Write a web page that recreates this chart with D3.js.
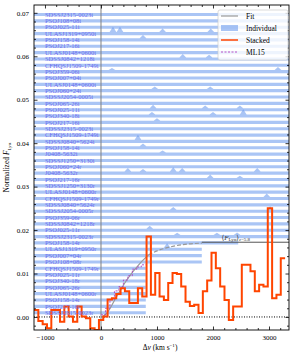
<!DOCTYPE html>
<html lang="en">
<head>
<meta charset="UTF-8" />
<script src="https://d3js.org/d3.v7.min.js"></script>
<style>
  body { margin: 0; background: #fff; }
  text { font-family: "Liberation Serif", "DejaVu Serif", serif; }
</style>
</head>
<body>
<svg id="chart" width="291" height="353"></svg>
<script>
// sightline labels, top to bottom
const rowLabels = [
  "SDSSJ2315-0023i", "PSOJ108+08i", "PSOJ025-11i", "ULASJ1319+0950i", "PSOJ158-14i",
  "PSOJ217-16i", "ULASJ0148+0600i", "SDSSJ0842+1218i", "CFHQSJ1509-1749i", "PSOJ359-06i",
  "PSOJ007+04i", "ULASJ0148+0600i", "PSOJ060+24i", "SDSSJ2054-0005i", "PSOJ065-26i",
  "PSOJ025-11i", "PSOJ340-18i", "PSOJ217-16i", "SDSSJ2315-0023i", "CFHQSJ1509-1749i",
  "SDSSJ0840+5624i", "PSOJ158-14i", "J0408-5632i", "SDSSJ1250+3130i", "PSOJ060+24r",
  "J0408-5632r", "PSOJ217-16r", "SDSSJ1250+3130r", "ULASJ0148+0600r", "CFHQSJ1509-1749r",
  "SDSSJ0840+5624r", "SDSSJ2054-0005r", "PSOJ359-06r", "SDSSJ0842+1218r", "PSOJ025-11r",
  "SDSSJ2315-0023r", "PSOJ158-14r", "ULASJ1319+0950r", "PSOJ007+04r", "PSOJ108+08r",
  "CFHQSJ1509-1749r", "PSOJ025-11r", "PSOJ340-18r", "PSOJ065-26r", "ULASJ0148+0600r",
  "PSOJ158-14r", "PSOJ217-16r", "SDSSJ2315-0023r"
];
// velocity coverage of each individual spectrum (km/s)
const rowEnd = [
  3360, 3360, 3360, 3360, 3360, 3360, 3360, 3360, 3360, 3360,
  3360, 3360, 3360, 3360, 3360, 3360, 3360, 3360, 3360, 3360,
  3360, 3360, 3360, 3360, 3360, 3360, 3360, 3360, 3360, 3360,
  3360, 3360, 3360, 3360, 3360, 3360, 2450, 1800, 1800, 1800,
  800, 800, 800, 800, 800, 800, 800, 800
];
// transmission spikes per row: [dv, flux in 1e-3]
const rowPeaks = [
  [], [], [], [[214, 1.2], [339, 1.2], [1100, 0.8], [1960, 0.8]], [[750, 0.8]],
  [], [], [[1460, 0.8], [1930, 0.6]], [], [[196, 0.5], [3160, 0.7]],
  [], [], [[960, 0.6], [1950, 0.6]], [], [],
  [[930, 0.8], [1860, 0.6], [2480, 0.6]], [[910, 0.6], [2000, 0.6], [2540, 1.2]], [[1000, 0.6]], [], [],
  [[660, 1.2]], [[750, 0.6]], [[1100, 0.5]], [], [],
  [[480, 0.8], [750, 0.6], [1290, 1.0], [1450, 0.8], [2790, 0.8]], [[1950, 0.8], [2480, 0.5]], [], [], [[2960, 0.8]],
  [], [[1290, 0.6], [3020, 0.8]], [], [], [[870, 0.7]],
  [[1360, 0.5], [2070, 0.5], [2430, 0.6]], [], [[1180, 1.0]], [], [],
  [], [], [], [], [], [], [], []
];

// stacked flux, binned
const stackStart = -1196;
const stackWidth = 77.3;
const stackVals = [
  0.0016, -0.0009, -0.0017, -0.0026, 0.0016, 0.0016, -0.0011, 0.0024, 0.0001, -0.0011,
  0.0024, 0.0001, -0.0003, -0.0026, -0.0030, -0.0007, 0.0001, 0.0040, 0.0043, 0.0053,
  0.0066, 0.0059, 0.0032, 0.0032, 0.0066, 0.0047, 0.0185, 0.0051, 0.0101, 0.0047,
  0.0039, 0.0078, 0.0101, 0.0099, 0.0070, 0.0035, 0.0025, 0.0028, 0.0009, 0.0059,
  0.0084, 0.0148, 0.0112, 0.0070, 0.0039, -0.0007, 0.0024, 0.0024, 0.0120, 0.0120,
  0.0105, 0.0059, 0.0074, 0.0070, 0.0250, 0.0043, 0.0051, 0.0135
];

// ML15 model steps
const mlEdges = [0, 80, 160, 240, 320, 400, 480, 560, 640, 720, 800];
const mlVals = [0.0005, 0.0020, 0.0040, 0.0060, 0.0070, 0.0085, 0.0095, 0.0110, 0.0115, 0.0120];

// fit curve, solid then dashed extrapolation
const fitSolid = [[20, 0.0], [100, 0.0008], [280, 0.0047], [460, 0.0085], [700, 0.0124], [850, 0.0143]];
const fitDashed = [[850, 0.0143], [1000, 0.0152], [1300, 0.0163], [1800, 0.0170]];

const meanFlux = 0.0172;
const meanFrom = 1800;

const xTicks = [-1000, 0, 1000, 2000, 3000];
const yTicks = [0, 0.01, 0.02, 0.03, 0.04, 0.05, 0.06, 0.07];

const svg = d3.select("#chart");
const margin = { top: 5, right: 2, bottom: 23, left: 34 };
const width = 291, height = 353;

const x = d3.scaleLinear().domain([-1196, 3357]).range([margin.left, width - margin.right]);
const y = d3.scaleLinear().domain([-0.003, 0.0718]).range([height - margin.bottom, margin.top]);

const blue = "#6495ed";

svg.append("clipPath").attr("id", "clip")
  .append("rect")
  .attr("x", margin.left).attr("y", margin.top)
  .attr("width", width - margin.left - margin.right)
  .attr("height", height - margin.bottom - margin.top);

const plot = svg.append("g").attr("clip-path", "url(#clip)");

// individual spectra
const rowStep = 0.00146;
const rowTop = 0.0696;
const halfBand = 0.00036;
const area = d3.area().x(d => x(d[0])).y0(d => y(d[2])).y1(d => y(d[1]));

rowLabels.forEach((lab, i) => {
  const base = rowTop - i * rowStep;
  const v0 = -1196, v1 = rowEnd[i];
  let pts = [[v0, base + halfBand, base - halfBand]];
  rowPeaks[i].slice().sort((a, b) => a[0] - b[0]).forEach(p => {
    if (p[0] > v1) return;
    pts.push([p[0] - 60, base + halfBand, base - halfBand]);
    pts.push([p[0], base + halfBand + p[1] * 0.001, base - halfBand]);
    pts.push([p[0] + 60, base + halfBand, base - halfBand]);
  });
  pts.push([v1, base + halfBand, base - halfBand]);
  plot.append("path")
    .attr("d", area(pts))
    .attr("fill", blue)
    .attr("fill-opacity", 0.55);
});

// zero lines
plot.append("line")
  .attr("x1", x(0)).attr("x2", x(0))
  .attr("y1", margin.top).attr("y2", height - margin.bottom)
  .attr("stroke", "#808080").attr("stroke-width", 1);
plot.append("line")
  .attr("x1", margin.left).attr("x2", width - margin.right)
  .attr("y1", y(0)).attr("y2", y(0))
  .attr("stroke", "#000").attr("stroke-width", 1).attr("stroke-dasharray", "1,1.5");

// labels for rows
rowLabels.forEach((lab, i) => {
  const base = rowTop - i * rowStep;
  svg.append("text")
    .attr("x", 45).attr("y", y(base) + 2.2)
    .attr("font-size", "6.5px")
    .attr("fill", "#6b6bef")
    .text(lab);
});

// mean flux
plot.append("line")
  .attr("x1", x(meanFrom)).attr("x2", width - margin.right)
  .attr("y1", y(meanFlux)).attr("y2", y(meanFlux))
  .attr("stroke", "#555").attr("stroke-width", 1);
const ann = svg.append("text").attr("x", x(2150)).attr("y", y(meanFlux) - 2.5)
  .attr("font-size", "7px").attr("fill", "#333");
ann.append("tspan").text("\u27E8");
ann.append("tspan").attr("font-style", "italic").text("F");
ann.append("tspan").attr("font-size", "5px").attr("dy", 1.5).text("Ly\u03B1");
ann.append("tspan").attr("dy", -1.5).text("\u27E9");
ann.append("tspan").attr("font-size", "5px").attr("dy", 1.5).attr("font-style", "italic").text("z");
ann.append("tspan").attr("font-size", "5px").text("=5.8");

// fit
const line = d3.line().x(d => x(d[0])).y(d => y(d[1])).curve(d3.curveMonotoneX);
plot.append("path").attr("d", line(fitSolid))
  .attr("fill", "none").attr("stroke", "#999").attr("stroke-width", 1.2);
plot.append("path").attr("d", line(fitDashed))
  .attr("fill", "none").attr("stroke", "#999").attr("stroke-width", 1.2)
  .attr("stroke-dasharray", "4,2");

// ML15 steps
const mlPts = [];
mlVals.forEach((v, i) => { mlPts.push([mlEdges[i], v]); mlPts.push([mlEdges[i + 1], v]); });
plot.append("path")
  .attr("d", d3.line().x(d => x(d[0])).y(d => y(d[1]))(mlPts))
  .attr("fill", "none").attr("stroke", "#b040c0").attr("stroke-width", 0.9)
  .attr("stroke-dasharray", "2,1.5");

// stacked
const stPts = [];
stackVals.forEach((v, i) => {
  stPts.push([stackStart + i * stackWidth, v]);
  stPts.push([stackStart + (i + 1) * stackWidth, v]);
});
plot.append("path")
  .attr("d", d3.line().x(d => x(d[0])).y(d => y(d[1]))(stPts))
  .attr("fill", "none").attr("stroke", "#ff4500").attr("stroke-width", 2)
  .attr("stroke-linejoin", "miter");

// axes with inward ticks on all sides
const fmtY = d3.format(".2f");
const axB = d3.axisBottom(x).tickValues(xTicks).tickSize(-3.5).tickPadding(5)
  .tickFormat(d => d < 0 ? "\u2212" + Math.abs(d) : d);
const axT = d3.axisTop(x).tickValues(xTicks).tickSize(-3.5).tickFormat("");
const axL = d3.axisLeft(y).tickValues(yTicks).tickSize(-3.5).tickPadding(5).tickFormat(fmtY);
const axR = d3.axisRight(y).tickValues(yTicks).tickSize(-3.5).tickFormat("");
const xMinor = d3.range(-1000, 3400, 200).filter(v => v % 1000 !== 0);
const yMinor = d3.range(-0.002, 0.072, 0.002).filter(v => Math.abs(v * 100 - Math.round(v * 100)) > 1e-6);
const axBm = d3.axisBottom(x).tickValues(xMinor).tickSize(-2).tickFormat("");
const axTm = d3.axisTop(x).tickValues(xMinor).tickSize(-2).tickFormat("");
const axLm = d3.axisLeft(y).tickValues(yMinor).tickSize(-2).tickFormat("");
const axRm = d3.axisRight(y).tickValues(yMinor).tickSize(-2).tickFormat("");

const bottomY = height - margin.bottom, rightX = width - margin.right;
[[axB, `translate(0,${bottomY})`], [axBm, `translate(0,${bottomY})`],
 [axT, `translate(0,${margin.top})`], [axTm, `translate(0,${margin.top})`],
 [axL, `translate(${margin.left},0)`], [axLm, `translate(${margin.left},0)`],
 [axR, `translate(${rightX},0)`], [axRm, `translate(${rightX},0)`]].forEach(a => {
  const g = svg.append("g").attr("transform", a[1]).call(a[0]);
  g.select(".domain").remove();
  g.selectAll("line").attr("stroke", "#000").attr("stroke-width", 0.8);
  g.selectAll("text").attr("font-size", "7px").attr("fill", "#000")
    .style("font-family", "'Liberation Serif', serif");
});

svg.append("rect")
  .attr("x", margin.left).attr("y", margin.top)
  .attr("width", rightX - margin.left).attr("height", bottomY - margin.top)
  .attr("fill", "none").attr("stroke", "#000").attr("stroke-width", 0.9);

// axis titles
const xl = svg.append("text").attr("x", 160).attr("y", 350)
  .attr("text-anchor", "middle").attr("font-size", "7.5px");
xl.append("tspan").text("\u0394");
xl.append("tspan").attr("font-style", "italic").text("v");
xl.append("tspan").text(" (km s");
xl.append("tspan").attr("font-size", "5px").attr("dy", -3).text("\u22121");
xl.append("tspan").attr("dy", 3).text(")");

const yl = svg.append("text")
  .attr("transform", `translate(9,${(margin.top + bottomY) / 2}) rotate(-90)`)
  .attr("text-anchor", "middle").attr("font-size", "7.5px");
yl.append("tspan").text("Normalized ");
yl.append("tspan").attr("font-style", "italic").text("F");
yl.append("tspan").attr("font-size", "5px").attr("dy", 1.5).text("Ly\u03B1");

// legend
const lg = svg.append("g").attr("transform", "translate(218,10)");
lg.append("rect").attr("width", 70).attr("height", 50).attr("rx", 2)
  .attr("fill", "#fff").attr("fill-opacity", 0.8).attr("stroke", "#ccc").attr("stroke-width", 0.7);
const legItems = ["Fit", "Individual", "Stacked", "ML15"];
legItems.forEach((name, i) => {
  const ly = 6 + i * 12;
  if (name === "Fit") {
    lg.append("line").attr("x1", 3).attr("x2", 20).attr("y1", ly).attr("y2", ly)
      .attr("stroke", "#999").attr("stroke-width", 1.2);
  } else if (name === "Individual") {
    lg.append("rect").attr("x", 3).attr("y", ly - 3).attr("width", 17).attr("height", 6)
      .attr("fill", blue).attr("fill-opacity", 0.55);
  } else if (name === "Stacked") {
    lg.append("line").attr("x1", 3).attr("x2", 20).attr("y1", ly).attr("y2", ly)
      .attr("stroke", "#ff4500").attr("stroke-width", 1.5);
  } else {
    lg.append("line").attr("x1", 3).attr("x2", 20).attr("y1", ly).attr("y2", ly)
      .attr("stroke", "#b040c0").attr("stroke-width", 0.9).attr("stroke-dasharray", "2,1.5");
  }
  lg.append("text").attr("x", 28).attr("y", ly + 2.5).attr("font-size", "7.5px").text(name);
});
</script>
</body>
</html>
